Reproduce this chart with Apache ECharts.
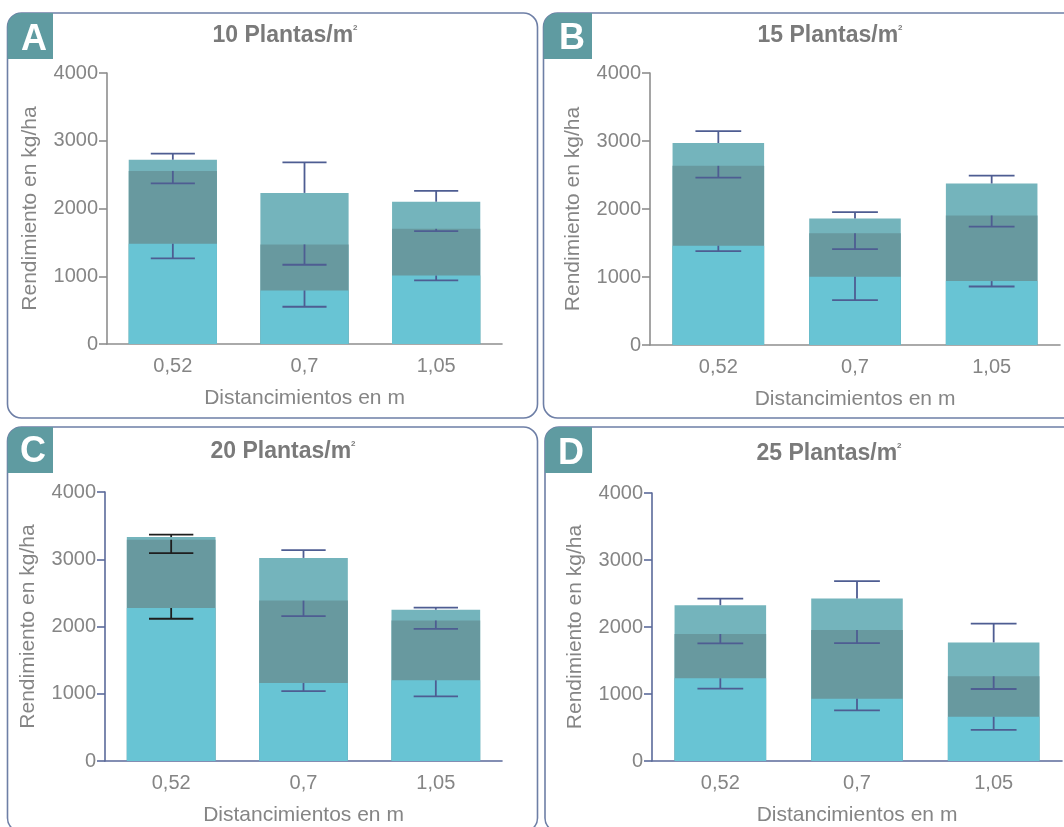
<!DOCTYPE html>
<html>
<head>
<meta charset="utf-8">
<script src="https://cdn.jsdelivr.net/npm/echarts@6/dist/echarts.min.js"></script>
<style>
html,body{margin:0;padding:0;background:#fff;}
#chart{width:1064px;height:827px;}
</style>
</head>
<body>
<div id="chart"></div>
<script>
// ---- data ----
const categories = ['0,52', '0,7', '1,05'];
const panelLetters = ['A', 'B', 'C', 'D'];
const panelTitles = ['10 Plantas/m', '15 Plantas/m', '20 Plantas/m', '25 Plantas/m'];
const yTicks = [0, 1000, 2000, 3000, 4000];
const yAxisName = 'Rendimiento en kg/ha';
const xAxisName = 'Distancimientos en m';

// bar heights (kg/ha) per panel, per category; bars overlap from zero
const upperBars  = [[2720, 2230, 2100], [2970, 1860, 2375], [3330, 3020, 2250], [2325, 2425, 1770]];
const middleBars = [[2555, 1470, 1700], [2635, 1645, 1905], [3290, 2385, 2090], [1895, 1955, 1265]];
const lowerBars  = [[1480,  790, 1010], [1460, 1005,  940], [2275, 1160, 1200], [1235,  930,  660]];
// error bar end values
const upperErr  = [[2810, 2680, 2260], [3145, 1955, 2490], [3365, 3135, 2280], [2425, 2685, 2050]];
const middleErr = [[2370, 1170, 1665], [2460, 1410, 1740], [3090, 2155, 1965], [1755, 1760, 1075]];
const lowerErr  = [[1265,  550,  940], [1380,  660,  860], [2115, 1040,  960], [1080,  755,  465]];

// ---- layout / style ----
const grids = [
  {left: 107, top: 73, width: 395, height: 271},
  {left: 650, top: 73, width: 410, height: 272},
  {left: 105, top: 492, width: 397, height: 272},
  {left: 652, top: 493, width: 410, height: 272}
];
const panelRects = [
  {x: 7.5, y: 13, width: 530, height: 405},
  {x: 543.5, y: 13, width: 545, height: 405},
  {x: 7.5, y: 427, width: 530, height: 405},
  {x: 545, y: 427, width: 545, height: 405}
];
const letterBoxes = [
  {x: 7.5, y: 13, width: 45.5, height: 46},
  {x: 543.5, y: 13, width: 48.5, height: 46},
  {x: 7.5, y: 427, width: 45.5, height: 46},
  {x: 545, y: 427, width: 47, height: 46}
];
const letterPos = [[34, 40], [572, 39], [33, 452], [571, 454]];
const titlePos = [[285, 24], [830, 24], [283, 440], [829, 442]];
const axisColors = ['#8e8e8e', '#8e8e8e', '#5b6a9a', '#5b6a9a'];
const COL_UPPER = '#74b4bc';
const COL_MID = '#68999f';
const COL_LOW = '#68c4d4';
const ERR_COL = '#4e5d92';
const TXT = '#858585';
const FONT = 'Liberation Sans';

const option = {
  animation: false,
  backgroundColor: '#ffffff',
  grid: grids.map(g => Object.assign({containLabel: false}, g)),
  title: panelTitles.map((t, i) => ({
    text: '{t|' + t + '}{s|2}',
    left: titlePos[i][0],
    top: titlePos[i][1],
    textAlign: 'center',
    padding: 0,
    textStyle: {
      rich: {
        t: {fontFamily: 'Liberation Sans', fontWeight: 'bold', fontSize: 23, color: '#7a7a7a'},
        s: {fontFamily: 'Liberation Sans', fontWeight: 'bold', fontSize: 8, color: '#7a7a7a', verticalAlign: 'top'}
      }
    }
  })),
  xAxis: grids.map((g, i) => ({
    type: 'category',
    gridIndex: i,
    data: categories,
    boundaryGap: true,
    name: xAxisName,
    nameLocation: 'middle',
    nameGap: 44,
    nameTextStyle: {fontFamily: FONT, fontSize: 21, color: TXT},
    axisLine: {lineStyle: {color: axisColors[i], width: 1.6}},
    axisTick: {alignWithLabel: true, length: 8, lineStyle: {color: axisColors[i], width: 1.6}},
    axisLabel: {fontFamily: FONT, fontSize: 20, color: TXT, margin: 12},
    splitLine: {show: false}
  })),
  yAxis: grids.map((g, i) => ({
    type: 'value',
    gridIndex: i,
    min: yTicks[0],
    max: yTicks[yTicks.length - 1],
    interval: yTicks[1] - yTicks[0],
    name: yAxisName,
    nameLocation: 'middle',
    nameGap: 66,
    nameRotate: 90,
    nameTextStyle: {fontFamily: FONT, fontSize: 21, color: TXT},
    axisLine: {show: true, lineStyle: {color: axisColors[i], width: 1.6}},
    axisTick: {show: true, length: 8, lineStyle: {color: axisColors[i], width: 1.6}},
    axisLabel: {fontFamily: FONT, fontSize: 20, color: TXT, margin: 9, formatter: v => String(v)},
    splitLine: {show: false}
  })),
  graphic: [],
  series: []
};

// panel frames, letter boxes
panelRects.forEach((r, i) => {
  option.graphic.push({
    type: 'rect', z: 0, silent: true,
    shape: Object.assign({r: 14}, r),
    style: {fill: 'none', stroke: '#6e7fa6', lineWidth: 1.6}
  });
  option.graphic.push({
    type: 'rect', z: 1, silent: true,
    shape: Object.assign({r: [14, 0, 0, 0]}, letterBoxes[i]),
    style: {fill: '#5f9ba1'}
  });
  option.graphic.push({
    type: 'text', z: 2, silent: true,
    x: letterPos[i][0], y: letterPos[i][1],
    style: {text: panelLetters[i], fill: '#ffffff', font: 'bold 36px "Liberation Sans"', align: 'center', verticalAlign: 'middle'}
  });
});

function errorSeries(panel, base, ends, color) {
  return {
    type: 'custom',
    xAxisIndex: panel, yAxisIndex: panel,
    z: 10,
    data: base.map((v, k) => [k, v, ends[k]]),
    renderItem: function (params, api) {
      const k = api.value(0);
      const p0 = api.coord([k, api.value(1)]);
      const p1 = api.coord([k, api.value(2)]);
      const half = api.size([1, 0])[0] * 0.335 / 2;
      const c = (panel === 2 && k === 0) ? '#1e1e1e' : color;
      return {
        type: 'group',
        children: [
          {type: 'line', shape: {x1: p0[0], y1: p0[1], x2: p1[0], y2: p1[1]}, style: {stroke: c, lineWidth: 1.8}},
          {type: 'line', shape: {x1: p1[0] - half, y1: p1[1], x2: p1[0] + half, y2: p1[1]}, style: {stroke: c, lineWidth: 1.8}}
        ]
      };
    }
  };
}

for (let p = 0; p < 4; p++) {
  [[upperBars, COL_UPPER], [middleBars, COL_MID], [lowerBars, COL_LOW]].forEach(([arr, col]) => {
    option.series.push({
      type: 'bar',
      xAxisIndex: p, yAxisIndex: p,
      data: arr[p],
      barWidth: '67%',
      barGap: '-100%',
      itemStyle: {color: col},
      z: 2
    });
  });
  option.series.push(errorSeries(p, upperBars[p], upperErr[p], ERR_COL));
  option.series.push(errorSeries(p, middleBars[p], middleErr[p], ERR_COL));
  option.series.push(errorSeries(p, lowerBars[p], lowerErr[p], ERR_COL));
}

const chart = echarts.init(document.getElementById('chart'), null, {renderer: 'canvas'});
chart.setOption(option);
</script>
</body>
</html>
